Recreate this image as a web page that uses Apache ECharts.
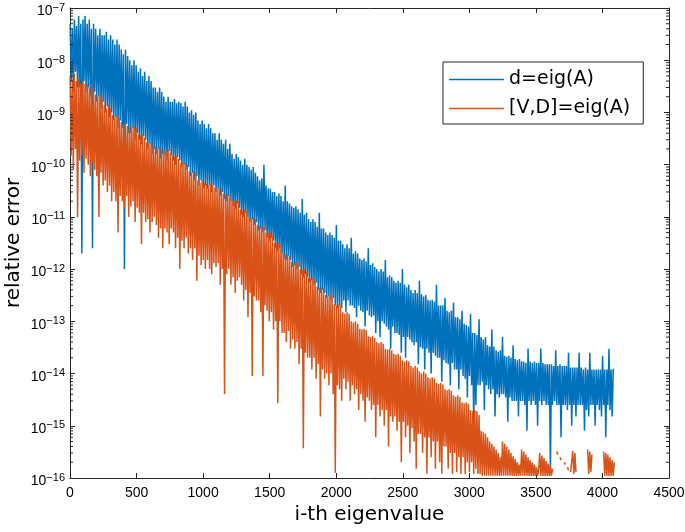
<!DOCTYPE html>
<html><head><meta charset="utf-8">
<script src="https://cdn.jsdelivr.net/npm/echarts@6/dist/echarts.min.js"></script>
<style>html,body{margin:0;padding:0;background:#fff}#chart{width:685px;height:532px}</style>
</head><body><div id="chart"></div>
<script>
// eigenvalue index spacing of the sampled points
const STEP = 8;
const xTickInterval = 500;
const xMax = 4500;
const yMin = 1e-16;
const yMax = 1e-7;

// d=eig(A) relative error (sampled every STEP indices)
const blue1 = [
5e-8,4e-9,4e-8,2.5e-9,6e-8,6e-9,4.5e-8,3e-9,
7e-8,3e-9,5e-8,2e-12,6e-8,4e-9,7e-8,2.5e-9,
5e-8,3e-9,6e-8,2e-9,4e-8,2.5e-12,5e-8,2.5e-9,
4e-8,1.6e-9,3e-8,2e-9,4e-8,1.2e-9,3e-8,1.6e-9,
3e-8,1e-9,3.5e-8,1.3e-9,2.5e-8,8e-10,3e-8,1e-9,
2.5e-8,7e-10,2e-8,8e-10,2.5e-8,5e-10,2e-8,7e-10,
1.6e-8,5e-10,1.3e-8,1e-12,1.6e-8,6e-10,1.2e-8,4e-10,
1e-8,4e-10,8e-9,5e-10,1e-8,3e-10,8e-9,4e-10,
6e-9,3e-10,7e-9,2.5e-10,5e-9,3.5e-10,6e-9,3e-10,
4e-9,2e-10,5e-9,2.5e-10,4e-9,1.6e-10,3e-9,2e-10,
3e-9,1.6e-10,2.5e-9,2e-10,3e-9,1.3e-10,2.5e-9,1.6e-10,
2e-9,1.5e-10,1.6e-9,1.2e-10,2e-9,1.8e-10,1.6e-9,1.5e-10,
1.6e-9,1.2e-10,1.8e-9,1e-10,1.5e-9,1.4e-10,1.6e-9,1.2e-10,
1.5e-9,9e-11,1.3e-9,1e-10,1.6e-9,8e-11,1.3e-9,9e-11,
1e-9,6e-11,1.1e-9,7e-11,9e-10,5e-11,1e-9,6e-11,
7e-10,4e-11,6e-10,5e-11,7e-10,3.5e-11,6e-10,4e-11
];
const blue2 = [
5e-10,3.5e-11,6e-10,4e-11,5e-10,3e-11,4e-10,4e-11,
4e-10,3e-11,3e-10,3.5e-11,4e-10,2.5e-11,3e-10,3e-11,
2.5e-10,2.2e-11,3e-10,2e-11,2e-10,2.5e-11,2.5e-10,2e-11,
1.6e-10,1.6e-11,1.3e-10,1.4e-11,1.6e-10,1.8e-11,1.4e-10,1.5e-11,
1.2e-10,1.1e-11,1e-10,1e-11,1.3e-10,1.2e-11,1e-10,1e-11,
9e-11,8e-12,8e-11,9e-12,9e-11,7e-12,7e-11,8e-12,
6e-11,5.5e-12,5e-11,6e-12,5.5e-11,5e-12,1e-10,5.5e-12,
4e-11,4e-12,3.5e-11,3.5e-12,3.5e-11,4e-12,3e-11,3.5e-12,
3e-11,2.5e-12,2.5e-11,2.2e-12,2.8e-11,2.5e-12,2.5e-11,2e-12,
2e-11,1.6e-12,4e-11,1.5e-12,2e-11,1.8e-12,1.8e-11,1.5e-12,
1.6e-11,1.1e-12,1.5e-11,1.2e-12,1.6e-11,1e-12,1.4e-11,1.1e-12,
1.2e-11,8e-13,2.2e-11,7e-13,1.1e-11,8e-13,1.2e-11,7e-13,
9e-12,5.5e-13,8e-12,6e-13,9e-12,5e-13,8e-12,5.5e-13,
6.5e-12,4e-13,1.2e-11,3.5e-13,6e-12,4e-13,6e-12,3.5e-13,
5e-12,2.8e-13,4.5e-12,3e-13,5e-12,2.5e-13,4.5e-12,2.8e-13,
4e-12,2e-13,7e-12,1.8e-13,3.5e-12,2e-13,3.5e-12,1.8e-13
];
const blue3 = [
3e-12,2.5e-13,2.5e-12,1.5e-13,3e-12,2.5e-13,2.5e-12,2e-13,
4e-12,2e-13,2e-12,1.8e-13,2.2e-12,1.2e-13,2e-12,2e-13,
1.6e-12,1.6e-13,1.5e-12,1.5e-13,1.6e-12,8e-14,1.4e-12,1.6e-13,
2.5e-12,1.3e-13,1.2e-12,1.2e-13,1.3e-12,1.3e-13,1.1e-12,6e-14,
1e-12,1e-13,9e-13,5e-14,1e-12,1e-13,9e-13,9e-14,
1.5e-12,8e-14,7e-13,7e-14,7.5e-13,3e-14,7e-13,8e-14,
6e-13,6e-14,5.5e-13,6e-14,6e-13,5.5e-14,5.5e-13,2.5e-14,
1e-12,5e-14,5e-13,2e-14,4.5e-13,5e-14,5e-13,4.5e-14,
4e-13,4e-14,3.5e-13,3.5e-14,4e-13,4e-14,3.5e-13,1.5e-14,
6e-13,3.2e-14,3.3e-13,3e-14,3e-13,1.2e-14,3.2e-13,3e-14,
2.6e-13,2.5e-14,2.5e-13,1e-14,2.6e-13,2.5e-14,2.4e-13,2.2e-14,
5e-13,2e-14,2e-13,2e-14,2e-13,7e-15,2e-13,1.8e-14,
2.8e-13,1.6e-14,1.6e-13,1.5e-14,1.5e-13,6e-15,1.6e-13,1.6e-14,
2.3e-13,1.2e-14,1.2e-13,1.2e-14,1.2e-13,5e-15,1.1e-13,1.2e-14,
1.6e-13,9e-15,9e-14,8e-15,8.5e-14,3.5e-15,8e-14,9e-15,
1.4e-13,6e-15,6e-14,1e-15,6e-14,2.5e-15,5.5e-14,6e-15
];
const blue4 = [
1.1e-13,6e-15,5e-14,7e-15,4.5e-14,2e-15,5e-14,6e-15,
3.5e-14,5e-15,3.3e-14,4e-15,7e-14,5e-15,3.3e-14,1.5e-15,
2.8e-14,4e-15,2.6e-14,3.5e-15,2.8e-14,4e-15,5e-14,4e-15,
2.2e-14,3.5e-15,2.1e-14,1.2e-15,2.2e-14,3.5e-15,2e-14,3e-15,
3.5e-14,3e-15,1.9e-14,3e-15,1.8e-14,1.5e-15,1.9e-14,3e-15,
1.7e-14,3e-15,1.7e-14,2.5e-15,1.6e-14,8e-16,3e-14,3e-15,
1.7e-14,2.5e-15,1.6e-14,3e-15,1.7e-14,2.5e-15,1.6e-14,1e-15,
1.6e-14,3e-15,3e-14,2.5e-15,1.6e-14,3e-15,1.5e-14,2.5e-15,
1.5e-14,2.5e-15,1.5e-14,1.3e-16,1.5e-14,2.5e-15,1.4e-14,3e-15,
2.8e-14,2.5e-15,1.4e-14,2.5e-15,1.5e-14,6e-16,1.4e-14,2.5e-15,
1.4e-14,2.5e-15,1.4e-14,2e-15,2.5e-14,2.5e-15,1.3e-14,1e-15,
1.3e-14,2.5e-15,1.3e-14,1.5e-15,1.3e-14,2.5e-15,2.5e-14,2.5e-15,
1.3e-14,2.5e-15,1.2e-14,8e-16,1.3e-14,2e-15,1.2e-14,1.5e-15,
2.5e-14,2.5e-15,1.2e-14,2.5e-15,1.2e-14,1e-15,1.2e-14,2.5e-15,
1.2e-14,2e-15,1.2e-14,1.5e-15,2.2e-14,2.5e-15,1.2e-14,6e-16,
1.2e-14,2.5e-15,3e-14,2e-15,1.2e-14,1.5e-15,1.2e-14,1.2e-14
];

// [V,D]=eig(A) relative error (sampled every STEP indices, null = exact zero)
const orange1 = [
5e-9,1.5e-10,4e-9,8e-11,5.5e-9,2e-10,4e-9,1e-11,
4.5e-9,1.2e-10,3.5e-9,1.5e-10,4e-9,7e-11,3.5e-9,1.3e-10,
3.5e-9,1e-10,3e-9,6e-11,3.5e-9,1.1e-10,3e-9,8e-11,
2.2e-9,6e-11,2e-9,1e-11,2.2e-9,7e-11,1.8e-9,4e-11,
1.4e-9,5e-11,1.2e-9,3e-11,1.4e-9,4e-11,1.2e-9,2e-11,
9e-10,3e-11,8e-10,2e-11,9e-10,5e-12,8e-10,2.5e-11,
6.5e-10,2e-11,6e-10,1.5e-11,6.5e-10,2.5e-11,5.5e-10,1e-11,
5.5e-10,1.6e-11,5e-10,2e-11,5.5e-10,8e-12,5e-10,1.5e-11,
3.8e-10,1.2e-11,3.5e-10,3e-12,3.8e-10,1.2e-11,3.3e-10,8e-12,
2.7e-10,9e-12,2.5e-10,5e-12,2.7e-10,8e-12,2.4e-10,1e-11,
2.2e-10,7e-12,2e-10,4e-12,2.2e-10,6e-12,2e-10,2.5e-12,
1.9e-10,6e-12,1.8e-10,5e-12,1.9e-10,3e-12,1.7e-10,6e-12,
1.5e-10,5e-12,1.4e-10,2.5e-12,1.5e-10,4e-12,1.3e-10,1e-12,
1.1e-10,3.5e-12,1.1e-10,2.5e-12,1.1e-10,4e-12,1e-10,2e-12,
7.5e-11,2.5e-12,7e-11,1.5e-12,7.5e-11,2.5e-12,7e-11,6e-13,
5e-11,1.8e-12,4.5e-11,1.2e-12,5e-11,1.5e-12,4.5e-11,1e-12
];
const orange2 = [
4.3e-11,1.5e-12,4e-11,1e-12,4.3e-11,8e-13,4e-11,1.3e-12,
3.7e-11,1.1e-12,3.5e-11,1.3e-12,3.7e-11,5e-13,3.5e-11,1e-12,
2.8e-11,4e-15,2.7e-11,8e-13,2.8e-11,1e-12,2.6e-11,5e-13,
2.1e-11,7e-13,2e-11,3.5e-13,2.1e-11,6e-13,2e-11,7e-13,
1.4e-11,5e-13,1.3e-11,2.5e-13,1.4e-11,4e-13,1.3e-11,1.2e-13,
1e-11,3.5e-13,9.5e-12,9e-15,1e-11,3e-13,9e-12,2.5e-13,
7e-12,2.5e-13,6.5e-12,1.5e-13,7e-12,9e-15,6.5e-12,2e-13,
5e-12,1.6e-13,4.8e-12,1e-13,5e-12,1.5e-13,4.5e-12,7e-14,
3.2e-12,1e-13,3e-12,2.7e-15,3.2e-12,1e-13,3e-12,6e-14,
2e-12,6e-14,1.9e-12,4e-14,2e-12,6.5e-14,1.8e-12,3e-14,
1.4e-12,4.5e-14,1.3e-12,3e-14,1.4e-12,4e-14,1.3e-12,1.5e-14,
1e-12,3e-14,9.5e-13,3.7e-16,1e-12,2.5e-14,9e-13,2e-14,
6.8e-13,2e-14,6.5e-13,1.2e-14,6.8e-13,2e-14,6.3e-13,8e-15,
4.6e-13,1.5e-14,4.4e-13,1.5e-15,4.6e-13,1.2e-14,4.3e-13,8e-15,
3.2e-13,1e-14,3e-13,6e-15,3.2e-13,1e-14,3e-13,4e-15,
2.1e-13,1.26e-16,2e-13,6e-15,2.1e-13,5e-15,2e-13,3e-15
];
const orange3 = [
1.5e-13,8e-15,1.4e-13,5e-15,1.5e-13,7e-15,1.4e-13,3e-15,
1e-13,6e-15,9.5e-14,4e-15,1e-13,5e-15,9e-14,2e-15,
7.2e-14,4e-15,7e-14,3e-15,7.2e-14,1.2e-15,6.8e-14,3.5e-15,
5.2e-14,3e-15,5e-14,2e-15,5.2e-14,2.5e-15,4.8e-14,6e-16,
4e-14,2.5e-15,3.8e-14,1.5e-15,4e-14,2e-15,3.7e-14,1e-15,
3e-14,2e-15,2.9e-14,4e-16,3e-14,1.5e-15,2.8e-14,1.2e-15,
2.4e-14,1.5e-15,2.3e-14,8e-16,2.4e-14,1.2e-15,2.2e-14,2e-16,
1.8e-14,1.2e-15,1.7e-14,6e-16,1.8e-14,1e-15,1.7e-14,3e-16,
1.4e-14,9e-16,1.3e-14,5e-16,1.4e-14,1.5e-16,1.3e-14,7e-16,
1.1e-14,7e-16,1e-14,3e-16,1.1e-14,6e-16,1e-14,1.2e-16,
8.5e-15,6e-16,8e-15,2.5e-16,8.5e-15,5e-16,8e-15,1.5e-16,
6.6e-15,5e-16,6.3e-15,2e-16,6.6e-15,1.2e-16,6.2e-15,4e-16,
5e-15,4e-16,4.8e-15,1.5e-16,5e-15,3e-16,4.7e-15,1.2e-16,
3.8e-15,3e-16,3.6e-15,1.3e-16,3.8e-15,2.5e-16,3.5e-15,1.2e-16,
2.8e-15,2.5e-16,2.7e-15,1.2e-16,2.8e-15,2e-16,2.6e-15,1.3e-16,
2e-15,2e-16,1.9e-15,1.2e-16,2e-15,1.5e-16,1.9e-15,1.2e-16
];
const orange4 = [
1.6e-15,1.2e-16,8e-16,1.1e-16,7.5e-16,1.1e-16,7e-16,1.1e-16,
6e-16,1.1e-16,5e-16,1.1e-16,4.5e-16,1.1e-16,4e-16,1.1e-16,
3.5e-16,1.1e-16,3e-16,1.1e-16,2.5e-16,1.1e-16,5e-16,1.1e-16,
4.5e-16,1.1e-16,4e-16,1.1e-16,3.5e-16,1.1e-16,3e-16,1.1e-16,
2.6e-16,1.1e-16,2.3e-16,1.1e-16,2e-16,1.1e-16,1.8e-16,1.1e-16,
3.5e-16,1.1e-16,3.2e-16,1.1e-16,2.8e-16,1.1e-16,2.5e-16,1.1e-16,
2.2e-16,1.1e-16,2e-16,1.1e-16,1.8e-16,1.1e-16,1.6e-16,1.1e-16,
1.5e-16,3e-16,1.1e-16,2.7e-16,1.1e-16,2.4e-16,1.1e-16,2.1e-16,
1.1e-16,1.9e-16,1.1e-16,1.7e-16,1.1e-16,1.5e-16,null,null,
null,3.2e-16,2.8e-16,null,2.5e-16,2.2e-16,null,null,
2e-16,1.8e-16,null,1.6e-16,1.4e-16,null,1.3e-16,1.2e-16,
3.3e-16,1.2e-16,3e-16,1.3e-16,null,null,null,null,
null,null,null,null,null,null,3.5e-16,1.2e-16,
3.2e-16,1.3e-16,2.8e-16,null,null,null,null,null,
null,null,null,null,null,3.2e-16,1.1e-16,3e-16,
1.1e-16,2.8e-16,1.1e-16,2.5e-16,1.1e-16,2.2e-16,1.1e-16,2e-16
];

const blueValues = blue1.concat(blue2, blue3, blue4);
const orangeValues = orange1.concat(orange2, orange3, orange4);
function toPairs(vals) { return vals.map((v, i) => [1 + STEP * i, v]); }

// log-axis minor tick positions (2..9 within each decade)
const minorTicks = [];
for (let e = -16; e < -7; e++) for (let m = 2; m <= 9; m++) minorTicks.push([0, m * Math.pow(10, e)]);

const AX = '#262626';
const chart = echarts.init(document.getElementById('chart'), null, {renderer: 'canvas'});
const tickCommon = {show: true, inside: true, length: 5, lineStyle: {color: AX, width: 1}};
const lineCommon = {show: true, onZero: false, lineStyle: {color: AX, width: 1}};

chart.setOption({
  animation: false,
  backgroundColor: '#fff',
  grid: {left: 70, right: 16, top: 8, bottom: 54, containLabel: false, outerBoundsMode: 'none'},
  legend: {
    data: ['d=eig(A)', '[V,D]=eig(A)'],
    orient: 'vertical', left: 443, top: 62,
    padding: [8, 13, 6, 6], itemGap: 10, itemWidth: 55, itemHeight: 1.5, icon: 'rect',
    backgroundColor: '#fff', borderColor: AX, borderWidth: 1, borderRadius: 0,
    textStyle: {fontFamily: 'DejaVu Sans', fontSize: 19, color: '#000'}
  },
  xAxis: [{
    type: 'value', min: 0, max: xMax, interval: xTickInterval, position: 'bottom',
    axisLine: lineCommon, axisTick: tickCommon, splitLine: {show: false},
    axisLabel: {margin: 8, color: '#000', fontFamily: 'Liberation Sans', fontSize: 14, formatter: v => String(v)},
    name: 'i-th eigenvalue', nameLocation: 'middle', nameGap: 26,
    nameTextStyle: {fontFamily: 'DejaVu Sans', fontSize: 20, color: '#000'}
  }, {
    type: 'value', min: 0, max: xMax, interval: xTickInterval, position: 'top',
    axisLine: lineCommon, axisTick: tickCommon, splitLine: {show: false}, axisLabel: {show: false}
  }],
  yAxis: [{
    type: 'log', logBase: 10, min: yMin, max: yMax, splitNumber: 9, position: 'left',
    axisLine: lineCommon, axisTick: tickCommon, splitLine: {show: false},
    axisLabel: {
      margin: 5,
      formatter: v => '{b|10}{s|\u2212' + Math.abs(Math.round(Math.log10(v))) + '}',
      rich: {
        b: {fontFamily: 'Liberation Sans', fontSize: 14, lineHeight: 14, padding: [7, 0, 0, 0], color: '#000'},
        s: {fontFamily: 'Liberation Sans', fontSize: 11, lineHeight: 12, padding: [4, 0, 5, 0], color: '#000'}
      }
    },
    name: 'relative error', nameLocation: 'middle', nameGap: 46, nameMoveOverlap: false,
    nameTextStyle: {fontFamily: 'DejaVu Sans', fontSize: 20, color: '#000'}
  }, {
    type: 'log', logBase: 10, min: yMin, max: yMax, splitNumber: 9, position: 'right',
    axisLine: lineCommon, axisTick: tickCommon, splitLine: {show: false}, axisLabel: {show: false}
  }],
  series: [{
    name: 'd=eig(A)', type: 'line', data: toPairs(blueValues),
    symbol: 'none', showSymbol: false, connectNulls: false, clip: true, z: 2,
    lineStyle: {width: 1.5, color: '#0072BD'}, itemStyle: {color: '#0072BD'}
  }, {
    name: '[V,D]=eig(A)', type: 'line', data: toPairs(orangeValues),
    symbol: 'none', showSymbol: false, connectNulls: false, clip: true, z: 3,
    lineStyle: {width: 1.5, color: '#D95319'}, itemStyle: {color: '#D95319'}
  }, {
    type: 'custom', silent: true, z: 5, clip: false,
    data: minorTicks, encode: {x: 0, y: 1},
    renderItem: function (params, api) {
      const y = api.coord([0, api.value(1)])[1];
      const cs = params.coordSys;
      return {type: 'group', children: [
        {type: 'line', shape: {x1: cs.x, y1: y, x2: cs.x + 3, y2: y}, style: {stroke: AX, lineWidth: 1}},
        {type: 'line', shape: {x1: cs.x + cs.width, y1: y, x2: cs.x + cs.width - 3, y2: y}, style: {stroke: AX, lineWidth: 1}}
      ]};
    }
  }]
});
</script></body></html>
